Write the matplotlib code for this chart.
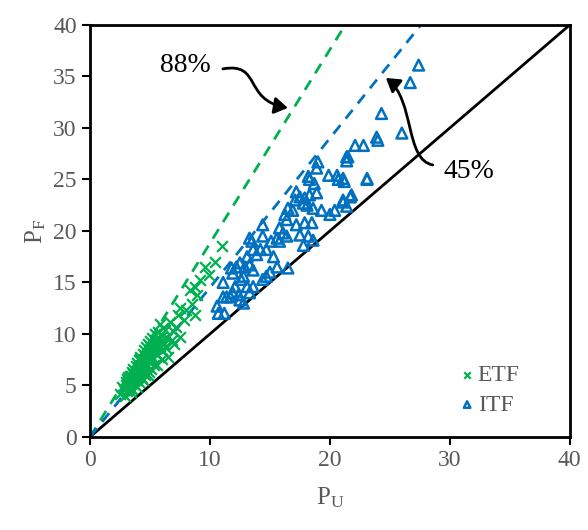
import matplotlib
matplotlib.use("Agg")
import matplotlib.pyplot as plt
from matplotlib.patches import FancyArrowPatch
from matplotlib.path import Path

plt.rcParams['font.family'] = ['Liberation Serif']
plt.rcParams['mathtext.fontset'] = 'custom'
plt.rcParams['mathtext.rm'] = 'Liberation Serif'

# ---- data ----
etf_x = [2.5, 2.8, 2.9, 3.0, 3.1, 3.2, 3.3, 3.3, 3.4, 3.5, 3.5, 3.6, 3.6, 3.7, 3.7, 3.8, 3.8, 3.9, 3.9, 4.0,
         4.0, 4.1, 4.1, 4.2, 4.2, 4.3, 4.3, 4.4, 4.4, 4.5, 4.5, 4.6, 4.6, 4.7, 4.7, 4.8, 4.8, 4.9, 4.9, 5.0,
         5.0, 5.1, 5.1, 5.2, 5.2, 5.3, 5.4, 5.5, 5.5, 5.6, 5.7, 5.8, 5.8, 6.0, 6.0, 6.1, 6.25, 6.5, 6.7, 6.8,
         7.2, 7.5, 7.5, 7.8, 8.0, 8.3, 8.75, 8.75, 8.9, 9.6, 9.9, 10.4, 11.0, 5.97, 5.4, 4.4, 3.9, 3.4, 4.8, 5.3,
         6.3, 7.0, 6.2, 4.2,
         2.7, 3.0, 3.2, 3.4, 3.6, 3.8, 4.0, 4.2, 4.4, 4.6, 4.8, 5.0, 5.2, 5.4, 5.6, 5.9, 3.1, 3.5, 3.9, 4.3,
         4.7, 5.1, 5.5, 6.4, 6.9, 7.3, 8.5, 9.2, 4.5, 5.0]
etf_y = [4.2, 4.6, 4.0, 5.0, 4.5, 5.4, 4.8, 5.9, 5.2, 6.3, 4.7, 5.6, 6.6, 5.1, 6.0, 6.9, 5.5, 6.4, 7.2, 5.8,
         6.8, 7.5, 5.3, 6.2, 7.8, 7.0, 5.7, 8.1, 6.5, 7.4, 8.4, 6.0, 7.9, 8.7, 6.8, 7.6, 9.0, 8.2, 6.3, 9.3,
         7.2, 8.6, 6.6, 9.6, 7.8, 8.9, 10.0, 8.1, 9.4, 7.0, 10.2, 11.0, 8.8, 9.8, 7.6, 10.6, 10.4, 7.8, 11.2, 9.4,
         10.7, 12.5, 9.7, 11.4, 12.3, 14.3, 14.6, 11.8, 13.8, 16.5, 15.7, 17.0, 18.5, 8.4, 9.4, 5.5, 4.9, 4.4, 6.0, 7.0,
         8.6, 9.0, 9.0, 7.6,
         4.9, 5.3, 5.8, 5.9, 6.1, 6.3, 6.5, 6.6, 7.0, 7.2, 8.1, 8.0, 8.3, 8.5, 9.0, 9.3, 5.6, 5.3, 5.7, 6.7,
         7.6, 7.4, 8.6, 9.6, 10.3, 11.8, 12.9, 15.2, 6.9, 8.8]

itf_x = [22.1, 22.8, 24.0, 21.4, 19.0, 18.9, 19.9, 20.6, 20.7, 21.2, 23.1, 18.2, 18.3, 18.7, 17.2, 17.5, 17.1,
         17.9, 18.3, 18.9, 21.8, 21.1, 21.4, 20.4, 20.0, 19.3, 18.6, 18.1, 17.8, 16.9, 16.5, 16.25, 16.4, 15.8,
         16.1, 15.6, 16.4, 17.2, 17.9, 18.5, 17.5, 18.2, 18.6, 17.8, 14.4, 14.4, 13.3, 13.5, 15.1, 15.8, 14.2,
         13.6, 14.7, 13.9, 13.1, 15.3, 15.6, 16.5, 15.0, 14.7, 14.4, 12.5, 12.2, 11.9, 11.8, 12.9, 13.3, 13.6,
         12.8, 12.6, 13.1, 13.6, 12.1, 11.9, 12.4, 13.3, 11.7, 12.5, 11.1, 12.8, 10.6, 10.7, 11.2,
         27.4, 26.7, 24.3, 26.0, 23.9, 21.5, 21.4, 21.1, 23.1, 21.7, 21.1, 11.1, 11.4]
itf_y = [28.3, 28.3, 28.8, 27.2, 26.7, 26.1, 25.4, 25.4, 25.0, 24.8, 25.0, 25.3, 25.0, 24.6, 23.8, 23.3, 23.0,
         23.2, 23.5, 23.7, 23.5, 23.0, 22.4, 22.0, 21.6, 22.0, 22.2, 22.5, 22.7, 22.0, 22.2, 21.6, 21.1, 20.3,
         19.8, 19.3, 19.5, 20.6, 20.8, 20.8, 19.6, 19.5, 19.1, 18.6, 20.6, 19.5, 19.3, 19.0, 19.0, 19.0, 18.2,
         18.2, 18.2, 17.7, 17.5, 17.5, 16.5, 16.4, 16.0, 15.6, 15.3, 16.9, 16.5, 15.9, 16.4, 16.5, 16.7, 16.2,
         15.6, 15.3, 14.6, 14.6, 14.6, 14.0, 13.8, 14.0, 13.6, 13.3, 13.6, 13.0, 12.7, 12.0, 12.0,
         36.1, 34.4, 31.4, 29.5, 29.1, 27.2, 26.8, 25.1, 25.1, 23.3, 22.8, 15.0, 13.6]

etf_slope = 1.88   # 88% line
itf_slope = 1.45   # 45% line
axis_max = 40
ticks = [0, 5, 10, 15, 20, 25, 30, 35, 40]
x_ticks = [0, 10, 20, 30, 40]

green = '#00B050'
blue = '#0070C0'
gray = '#595959'

fig = plt.figure(figsize=(5.88, 5.30), dpi=100)
ax = fig.add_axes([0.153, 0.1755, 0.816, 0.7775])

ax.plot([0, axis_max], [0, axis_max], color='black', lw=2, zorder=2)
ax.plot([0, axis_max / etf_slope], [0, axis_max], color=green, lw=2, ls=(0, (4, 3)), zorder=2)
ax.plot([0, axis_max / itf_slope], [0, axis_max], color=blue, lw=2, ls=(0, (4, 3)), zorder=2)

ax.scatter(etf_x, etf_y, marker='x', s=60, color=green, linewidths=1.6, zorder=3, label='ETF')
ax.scatter(itf_x, itf_y, marker='^', s=60, facecolors='none', edgecolors=blue, linewidths=1.8,
           zorder=3, label='ITF')

ax.set_xlim(0, axis_max)
ax.set_ylim(0, axis_max)
ax.set_xticks(x_ticks)
ax.set_yticks(ticks)
ax.tick_params(direction='out', length=6, width=1.5, labelsize=17, labelcolor=gray, color='black')
for s in ax.spines.values():
    s.set_linewidth(2)

ax.set_xlabel(r'$\mathregular{P_U}$', fontsize=18, color=gray, labelpad=10)
ax.set_ylabel(r'$\mathregular{P_F}$', fontsize=18, color=gray, labelpad=4)

leg = ax.legend(loc='lower right', bbox_to_anchor=(0.94, 0.0), frameon=False, fontsize=17,
                handletextpad=0.0, handlelength=0.9, markerscale=0.6, labelspacing=0.35)
for t in leg.get_texts():
    t.set_color(gray)

ax.text(5.8, 36.1, '88%', fontsize=20, ha='left', va='center', color='black')
ax.text(29.5, 25.8, '45%', fontsize=20, ha='left', va='center', color='black')

p1 = Path([(11.08, 35.73), (14.33, 36.41), (12.75, 32.72), (16.5, 31.94)],
          [Path.MOVETO, Path.CURVE4, Path.CURVE4, Path.CURVE4])
ax.add_patch(FancyArrowPatch(path=p1, arrowstyle='-|>,head_length=8,head_width=5', color='black',
                             lw=2, zorder=4))
p2 = Path([(28.58, 26.41), (26.25, 26.89), (27.08, 32.72), (24.67, 34.85)],
          [Path.MOVETO, Path.CURVE4, Path.CURVE4, Path.CURVE4])
ax.add_patch(FancyArrowPatch(path=p2, arrowstyle='-|>,head_length=8,head_width=5', color='black',
                             lw=2, zorder=4))

fig.savefig('out.png', dpi=100)
